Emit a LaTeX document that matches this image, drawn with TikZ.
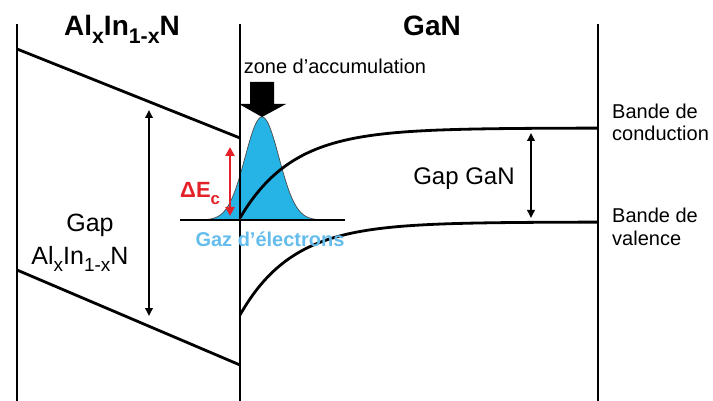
\documentclass[tikz,border=0pt]{standalone}
\usepackage{fontspec}
\setmainfont{Liberation Sans}
\usetikzlibrary{arrows.meta}
\definecolor{gazblue}{RGB}{38,180,230}
\definecolor{gaztext}{RGB}{100,188,236}
\definecolor{deltared}{RGB}{228,32,40}
\newcommand\lowsub[1]{\raisebox{-0.28em}{\scalebox{0.76}{#1}}}
\tikzset{
  wall/.style={line width=2.2pt},
  band/.style={line width=2.8pt},
  gaparrow/.style={{Triangle[length=8pt,width=7.5pt]}-{Triangle[length=8pt,width=7.5pt]},line width=1.8pt},
  title/.style={inner sep=0pt,anchor=base,font=\bfseries\fontsize{28}{30}\selectfont},
  side/.style={inner sep=0pt,anchor=base west,align=left,font=\fontsize{20}{22}\selectfont},
  plain/.style={inner sep=0pt,anchor=base,font=\fontsize{#1}{#1}\selectfont},
}

\begin{document}
\begin{tikzpicture}[x=1pt,y=-1pt]
  \useasboundingbox (0,0) rectangle (713,401);
  % electron gas
  \filldraw[fill=gazblue,draw=black!70,line width=0.7pt]
    plot[domain=192:334,samples=120,smooth] (\x,{220-103*exp(-((\x-262)^2)/(2*17^2))}) -- cycle;
  \draw[line width=1.5pt] (180,220) -- (345,220);
  % walls
  \draw[wall] (17,24) -- (17,401);
  \draw[wall] (240,24) -- (240,401);
  \draw[wall] (598,24) -- (598,401);
  % AlInN bands
  \draw[band] (17,49) -- (240,138);
  \draw[band] (17,270) -- (240,365);
  % GaN bands
  \draw[band] plot[domain=240:598,samples=90,smooth] (\x,{128+90*exp(-(\x-240)/52.6)});
  \draw[band] plot[domain=240:598,samples=90,smooth] (\x,{222+93*exp(-(\x-240)/52.6)});
  % accumulation arrow
  \fill (250,82) -- (274,82) -- (274,104) -- (286,104) -- (262,117) -- (239,104) -- (250,104) -- cycle;
  % gaps
  \coordinate (gapAtop) at (149,110);
  \coordinate (gapAbot) at (149,316);
  \coordinate (gapGtop) at (531,133);
  \coordinate (gapGbot) at (531,218);
  \coordinate (decTop) at (230,147);
  \coordinate (decBot) at (230,216);
  \draw[gaparrow] (gapAtop) -- (gapAbot);
  \draw[gaparrow] (gapGtop) -- (gapGbot);
  \draw[deltared,line width=2.4pt,{Triangle[length=9pt,width=9pt]}-{Triangle[length=9pt,width=9pt]}] (decTop) -- (decBot);
  % labels
  \node[title] (alinn) at (122,36) {Al\lowsub{x}In\lowsub{1-x}N};
  \node[title] (gan) at (432,36) {GaN};
  \node[plain=20] (zone) at (335,74) {zone d’accumulation};
  \node[side] (cond) at (612,141) {Bande de\\conduction};
  \node[side] (val) at (612,245) {Bande de\\valence};
  \node[plain=24] (gapgan) at (464,185) {Gap GaN};
  \node[inner sep=0pt,anchor=base,align=center,font=\fontsize{25}{33}\selectfont] (gapalinn) at (80,265) {\hspace*{20pt}Gap\\Al\lowsub{x}In\lowsub{1-x}N};
  \node[inner sep=0pt,anchor=base west,text=deltared,font=\bfseries\fontsize{22}{22}\selectfont] (dec) at (180,198) {ΔE\lowsub{c}};
  \node[inner sep=0pt,anchor=base,text=gaztext,font=\bfseries\fontsize{20}{20}\selectfont] (gaz) at (270,247) {Gaz d’électrons};
\end{tikzpicture}
\end{document}
